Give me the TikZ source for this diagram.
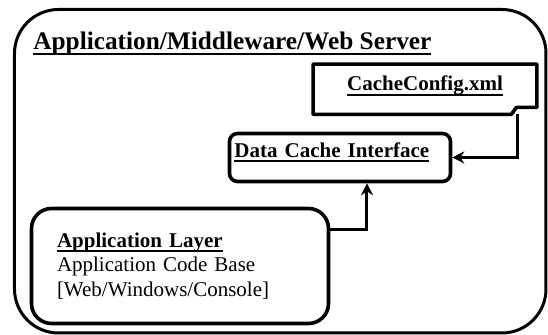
\documentclass[tikz,border=0pt]{standalone}
\usepackage{fontspec}
\setmainfont{Liberation Serif}
\usepackage{tikz}
\usetikzlibrary{positioning,arrows.meta,calc}
\newcommand\uln[1]{\setbox0\hbox{#1}\rlap{\rule[-2.3pt]{\wd0}{1pt}}\box0}
\tikzset{
 srv/.style={rectangle, rounded corners=22pt, draw, line width=1.5pt,
 minimum width=265.75pt, minimum height=161.75pt},
 ttl/.style={font=\fontsize{12.65}{15}\selectfont\bfseries, inner sep=0pt},
 blk/.style={rectangle, rounded corners=4pt, draw, line width=1.8pt, align=left,
 inner xsep=2.5pt, font=\fontsize{10.5}{12.25}\selectfont},
 lyr/.style={blk, rounded corners=10pt},
 doc/.style={rectangle, align=center, font=\fontsize{10.5}{12.25}\selectfont\bfseries},
 docline/.style={draw, line width=1.8pt, line join=round},
 conn/.style={-{Stealth[length=6pt,width=6pt,inset=2pt]}, line width=1.5pt},
}
\begin{document}
\begin{tikzpicture}[x=0.5pt,y=0.5pt]
 \useasboundingbox (0,0) rectangle (548,335);
 % server frame
 \node[srv] (srv) at (280.25,163.75) {};
 \node[ttl, anchor=base west] (title) at (33,285) {\uln{Application/Middleware/Web Server}};
 % config file
 \node[doc, minimum width=111.5pt, minimum height=24.75pt, text height=8pt, text depth=6.25pt]
 (cfg) at (425,245.75) {\uln{CacheConfig.xml}};
 \draw[docline] (cfg.north west) -- (cfg.north east) -- ($(cfg.south east)+(0,7)$)
 -- ++(-20.5,0) -- ++(-5,-7) -- (cfg.south west) -- cycle;
 % cache interface
 \node[blk, text width=105.5pt, minimum height=24pt, text height=7.5pt, text depth=7.75pt]
 (dci) at (340,177.5) {\bfseries\uln{Data Cache Interface}};
 % application layer
 \node[lyr, text width=123pt, inner xsep=12.75pt, minimum height=57.5pt]
 (app) at (180,69) {\uln{\bfseries Application Layer}\\Application Code Base\\{}[Web/Windows/Console]};

 \draw[conn] ($(cfg.south)+(93,0)$) |- (dci.east);
 \draw[conn] ($(app.east)+(0,36)$) -| ($(dci.south)+(27,0)$);
\end{tikzpicture}
\end{document}
